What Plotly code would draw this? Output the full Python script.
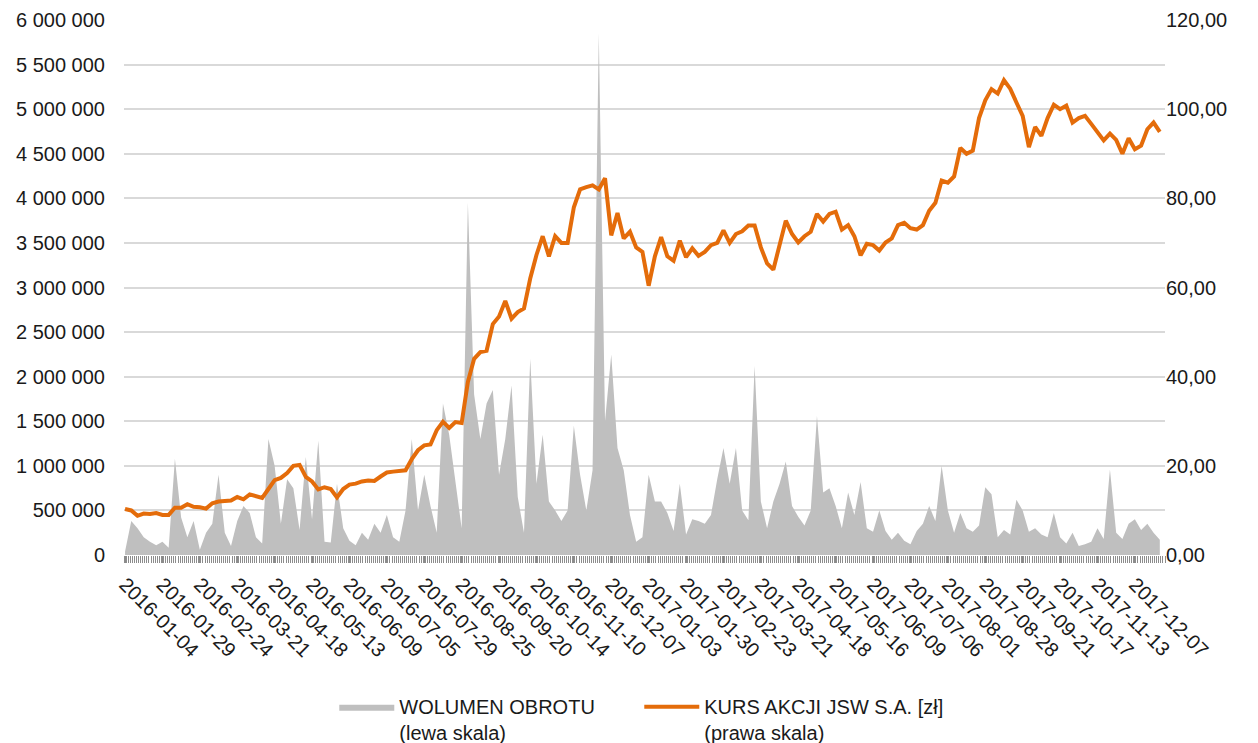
import plotly.graph_objects as go

# trading-day axis: 501 sessions, labels every 18 sessions
n_days = 501
step = 3

tick_labels = ["2016-01-04", "2016-01-29", "2016-02-24", "2016-03-21", "2016-04-18",
               "2016-05-13", "2016-06-09", "2016-07-05", "2016-07-29", "2016-08-25",
               "2016-09-20", "2016-10-14", "2016-11-10", "2016-12-07", "2017-01-03",
               "2017-01-30", "2017-02-23", "2017-03-21", "2017-04-18", "2017-05-16",
               "2017-06-09", "2017-07-06", "2017-08-01", "2017-08-28", "2017-09-21",
               "2017-10-17", "2017-11-13", "2017-12-07"]

# share price [zl], every 3rd session
price = [10.3, 10.0, 8.8, 9.3, 9.2, 9.4, 9.0, 9.0, 10.6, 10.6,
         11.4, 10.8, 10.7, 10.4, 11.6, 12.0, 12.1, 12.2, 13.0, 12.5,
         13.6, 13.1, 12.8, 14.8, 16.8, 17.3, 18.4, 20.0, 20.2, 17.5,
         16.5, 14.7, 15.2, 14.8, 12.9, 14.8, 15.8, 16.0, 16.5, 16.7,
         16.6, 17.6, 18.5, 18.7, 18.8, 19.0, 21.5, 23.5, 24.6, 24.8,
         28.0, 29.9, 28.5, 29.8, 29.6, 38.8, 44.0, 45.5, 45.8, 51.8,
         53.5, 57.0, 53.0, 54.5, 55.3, 62.0, 67.3, 71.5, 67.0, 71.5,
         70.0, 70.0, 78.0, 82.0, 82.5, 82.9, 82.0, 84.5, 71.7, 76.7,
         71.0, 72.5, 69.0, 68.0, 60.4, 67.0, 71.3, 67.0, 66.0, 70.5,
         66.8, 68.8, 67.1, 68.0, 69.5, 70.0, 72.8, 70.0, 72.0, 72.6,
         73.9, 73.9, 69.0, 65.4, 64.0, 69.5, 75.0, 72.0, 70.1, 71.5,
         72.5, 76.5, 74.8, 76.5, 77.0, 73.0, 74.0, 71.5, 67.2, 69.8,
         69.5, 68.3, 70.1, 71.0, 74.0, 74.5, 73.3, 73.0, 74.0, 77.2,
         79.0, 84.0, 83.5, 84.9, 91.3, 90.0, 90.7, 98.0, 102.0, 104.5,
         103.5, 106.5, 104.6, 101.5, 98.5, 91.5, 96.0, 94.0, 98.0, 101.0,
         100.0, 100.8, 97.0, 98.0, 98.5, 96.7, 95.0, 93.0, 94.5, 93.1,
         90.0, 93.5, 91.0, 91.8, 95.5, 97.0, 94.9]

# turnover volume [shares], every 3rd session
volume = [40000, 380000, 300000, 200000, 150000, 110000, 150000, 80000, 1080000, 420000,
          200000, 380000, 60000, 250000, 350000, 900000, 250000, 100000, 380000, 550000,
          470000, 200000, 130000, 1300000, 1000000, 350000, 850000, 750000, 280000, 1100000,
          400000, 1280000, 150000, 140000, 800000, 300000, 160000, 110000, 250000, 170000,
          350000, 250000, 450000, 200000, 150000, 500000, 1300000, 500000, 900000, 550000,
          250000, 1700000, 1350000, 850000, 300000, 3950000, 1800000, 1300000, 1700000, 1850000,
          900000, 1300000, 1900000, 650000, 250000, 2200000, 800000, 1350000, 600000, 500000,
          380000, 500000, 1450000, 900000, 500000, 950000, 5850000, 1500000, 2250000, 1200000,
          950000, 450000, 150000, 200000, 900000, 600000, 600000, 470000, 270000, 800000,
          230000, 400000, 380000, 350000, 450000, 850000, 1200000, 800000, 1200000, 500000,
          390000, 2120000, 600000, 300000, 600000, 800000, 1050000, 550000, 430000, 330000,
          500000, 1560000, 700000, 750000, 550000, 300000, 700000, 450000, 820000, 300000,
          260000, 500000, 270000, 170000, 250000, 160000, 120000, 270000, 350000, 550000,
          380000, 1000000, 500000, 250000, 470000, 300000, 260000, 330000, 760000, 680000,
          200000, 280000, 230000, 620000, 500000, 260000, 300000, 230000, 200000, 470000,
          200000, 130000, 250000, 100000, 120000, 150000, 300000, 180000, 960000, 250000,
          180000, 350000, 400000, 280000, 350000, 250000, 170000]

x = list(range(0, step * len(price), step))
tick_pos = list(range(0, 18 * len(tick_labels), 18))

fig = go.Figure()
fig.add_trace(go.Scatter(x=x, y=volume, name="WOLUMEN OBROTU<br>(lewa skala)",
                         mode='lines', fill='tozeroy', fillcolor='#bfbfbf',
                         line=dict(width=0, color='#bfbfbf')))
fig.add_trace(go.Scatter(x=x, y=price, name="KURS AKCJI JSW S.A. [zł]<br>(prawa skala)",
                         yaxis='y2', mode='lines',
                         line=dict(color='#e46c0a', width=4)))

# page body keeps an 8px margin, so the figure is offset by 8px in the window
fig.update_layout(
    width=1250, height=735,
    margin=dict(l=116, r=93, t=12, b=188, autoexpand=False),
    plot_bgcolor='white', paper_bgcolor='white',
    separators=', ',
    font=dict(family='Liberation Sans, Arial, sans-serif', size=20, color='#1a1a1a'),
    xaxis=dict(range=[-0.5, n_days - 0.5], tickmode='array', tickvals=tick_pos,
               ticktext=tick_labels, tickangle=45, showgrid=False, zeroline=False,
               ticks='outside', ticklen=7, tickcolor='#8c8c8c', ticklabelstandoff=2,
               minor=dict(tickmode='linear', tick0=-0.5, dtick=1, ticks='outside',
                          ticklen=7, tickcolor='#8c8c8c', tickwidth=1)),
    yaxis=dict(range=[0, 6000000], dtick=500000, tickformat=',d',
               gridcolor='#d9d9d9', gridwidth=1.5, zeroline=False,
               ticklabelstandoff=18),
    yaxis2=dict(range=[0, 120], dtick=20, tickformat='.2f', overlaying='y',
                side='right', showgrid=False, zeroline=False),
    legend=dict(orientation='h', x=0.202, xanchor='left', y=-0.247, yanchor='top',
                valign='top', itemwidth=55, entrywidth=235, entrywidthmode='pixels',
                font=dict(size=20)),
)

fig.write_html("out.html")
